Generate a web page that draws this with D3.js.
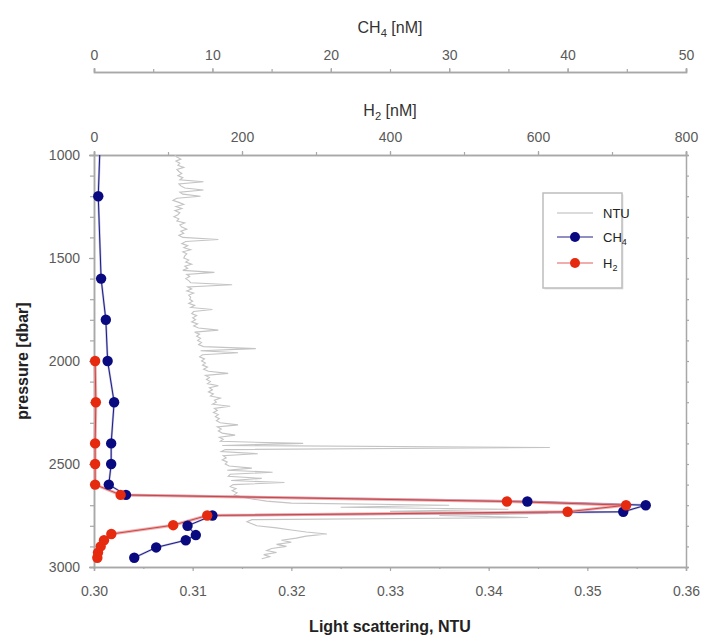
<!DOCTYPE html>
<html>
<head>
<meta charset="utf-8">
<script src="https://cdn.jsdelivr.net/npm/d3@7"></script>
<style>
  body { margin: 0; background: #fff; }
  #chart { width: 702px; height: 637px; }
  text { font-family: "Liberation Sans", Arial, sans-serif; }
</style>
</head>
<body>
<div id="chart"></div>
<script>
// NTU profile, one reading every 10 dbar from 1000 dbar
const ntuStart = 1000;
const ntuStep = 10;
const ntuValues = [
  0.3082,0.3084,0.3088,0.3083,0.3087,0.3085,0.3091,0.3084,0.3086,0.3089,
  0.3085,0.3090,0.3087,0.3111,0.3086,0.3088,0.3092,0.3111,0.3087,0.3090,
  0.3108,0.3084,0.3080,0.3086,0.3091,0.3083,0.3089,0.3082,0.3087,0.3085,
  0.3081,0.3086,0.3084,0.3092,0.3087,0.3089,0.3094,0.3088,0.3091,0.3086,
  0.3090,0.3126,0.3093,0.3089,0.3095,0.3091,0.3098,0.3090,0.3094,0.3092,
  0.3091,0.3096,0.3093,0.3099,0.3092,0.3095,0.3090,0.3122,0.3094,0.3097,
  0.3093,0.3096,0.3098,0.3140,0.3095,0.3099,0.3094,0.3101,0.3096,0.3098,
  0.3097,0.3100,0.3096,0.3102,0.3098,0.3120,0.3101,0.3099,0.3104,0.3100,
  0.3103,0.3099,0.3105,0.3101,0.3106,0.3126,0.3102,0.3107,0.3104,0.3108,
  0.3105,0.3109,0.3106,0.3111,0.3164,0.3108,0.3146,0.3110,0.3107,0.3112,
  0.3109,0.3113,0.3110,0.3115,0.3111,0.3116,0.3136,0.3113,0.3117,0.3114,
  0.3118,0.3115,0.3126,0.3117,0.3120,0.3116,0.3121,0.3118,0.3128,0.3122,
  0.3124,0.3120,0.3138,0.3122,0.3125,0.3121,0.3126,0.3123,0.3127,0.3124,
  0.3128,0.3146,0.3125,0.3129,0.3126,0.3130,0.3143,0.3127,0.3131,0.3128,
  0.3212,0.3130,0.3462,0.3133,0.3129,0.3166,0.3131,0.3134,0.3130,0.3135,
  0.3133,0.3137,0.3160,0.3135,0.3181,0.3138,0.3136,0.3170,0.3139,0.3193,
  0.3141,0.3138,0.3144,0.3140,0.3145,0.3142,0.3150,0.3160,0.3175,0.3200,
  0.3360,0.3250,0.3420,0.3300,0.3460,0.3350,0.3440,0.3160,0.3155,0.3160,
  0.3165,0.3185,0.3200,0.3215,0.3236,0.3215,0.3205,0.3190,0.3200,0.3185,
  0.3195,0.3180,0.3175,0.3185,0.3172,0.3178,0.3170
];

// bottle samples
const ch4Pressure = [970,1200,1600,1800,2000,2200,2400,2500,2600,2650,2682,2700,2732,2750,2800,2845,2870,2905,2955];
const ch4Values   = [0.5,0.36,0.6,1.0,1.15,1.7,1.45,1.45,1.25,2.7,36.6,46.6,44.7,10.0,7.9,8.6,7.75,5.25,3.4];
const h2Pressure  = [2000,2200,2400,2500,2600,2650,2682,2700,2732,2750,2797,2840,2870,2900,2930,2955];
const h2Values    = [1.5,2.5,1.5,1.5,1.5,36,558,719,640,153,107,23.4,13.5,9,5.4,4.5];

const ntuTicks = [0.30,0.31,0.32,0.33,0.34,0.35,0.36];
const pressureTicks = [1000,1500,2000,2500,3000];
const h2Ticks = [0,200,400,600,800];
const ch4Ticks = [0,10,20,30,40,50];

const width = 702, height = 637;
const margin = { left: 94, right: 16, top: 155, bottom: 70 };
const innerWidth = width - margin.left - margin.right;
const innerHeight = height - margin.top - margin.bottom;
const axisColor = "#a8a8a8";
const labelColor = "#5a5a5a";

const svg = d3.select("#chart").append("svg")
  .attr("width", width).attr("height", height);

const x = d3.scaleLinear().domain([0.30, 0.36]).range([0, innerWidth]);
const xH2 = d3.scaleLinear().domain([0, 800]).range([0, innerWidth]);
const xCH4 = d3.scaleLinear().domain([0, 50]).range([0, innerWidth]);
const y = d3.scaleLinear().domain([1000, 3000]).range([0, innerHeight]);

const g = svg.append("g").attr("transform", `translate(${margin.left},${margin.top})`);

function styleAxis(sel) {
  sel.select(".domain").attr("stroke", axisColor).attr("stroke-width", 1.5);
  sel.selectAll(".tick line").attr("stroke", axisColor).attr("stroke-width", 1.2);
  sel.selectAll(".tick text").attr("fill", labelColor).attr("font-size", 14)
    .attr("font-family", "Liberation Sans, Arial, sans-serif");
}
function minorAxis(sel) {
  styleAxis(sel);
  sel.selectAll(".tick text").remove();
}

// bottom NTU axis
g.append("g").attr("transform", `translate(0,${innerHeight})`)
  .call(d3.axisBottom(x).tickValues(d3.range(0.30, 0.3601, 0.005)).tickSize(2))
  .call(minorAxis);
g.append("g").attr("transform", `translate(0,${innerHeight})`)
  .call(d3.axisBottom(x).tickValues(ntuTicks).tickFormat(d3.format(".2f")).tickSize(4).tickPadding(15))
  .call(styleAxis);

// left pressure axis
g.append("g")
  .call(d3.axisLeft(y).tickValues(d3.range(1000, 3001, 100)).tickSize(4))
  .call(minorAxis);
g.append("g")
  .call(d3.axisLeft(y).tickValues(pressureTicks).tickFormat(d3.format("d")).tickSize(5).tickPadding(9))
  .call(styleAxis);

// right frame axis
g.append("g").attr("transform", `translate(${innerWidth},0)`)
  .call(d3.axisRight(y).tickValues(d3.range(1000, 3001, 100)).tickSize(3))
  .call(minorAxis);

// top H2 axis
g.append("g")
  .call(d3.axisTop(xH2).tickValues(d3.range(0, 801, 100)).tickSize(3))
  .call(minorAxis);
g.append("g")
  .call(d3.axisTop(xH2).tickValues(h2Ticks).tickFormat(d3.format("d")).tickSize(4).tickPadding(9))
  .call(styleAxis);

// CH4 axis above
const ch4Y = 72;
const gc = svg.append("g").attr("transform", `translate(${margin.left},${ch4Y})`);
gc.append("g")
  .call(d3.axisTop(xCH4).tickValues(d3.range(0, 51, 5)).tickSize(3))
  .call(minorAxis);
gc.append("g")
  .call(d3.axisTop(xCH4).tickValues(ch4Ticks).tickFormat(d3.format("d")).tickSize(4).tickPadding(8))
  .call(styleAxis);

// axis titles
function subTitle(parent, xPos, yPos, main, sub, rest, size, weight) {
  const t = parent.append("text").attr("x", xPos).attr("y", yPos)
    .attr("text-anchor", "middle").attr("font-size", size)
    .attr("font-weight", weight || "normal").attr("fill", "#333");
  t.append("tspan").text(main);
  if (sub) {
    t.append("tspan").attr("font-size", size * 0.7).attr("dy", size * 0.25).text(sub);
    t.append("tspan").attr("dy", -size * 0.25).text(rest);
  }
  return t;
}
const cx = margin.left + innerWidth / 2;
subTitle(svg, cx, 33, "CH", "4", " [nM]", 16);
subTitle(svg, cx, 116, "H", "2", " [nM]", 16);
subTitle(svg, cx, 632, "Light scattering, NTU", null, null, 16, "bold").attr("fill", "#222");
svg.append("text")
  .attr("transform", `translate(28,${margin.top + innerHeight / 2}) rotate(-90)`)
  .attr("text-anchor", "middle").attr("font-size", 16).attr("font-weight", "bold")
  .attr("fill", "#222").text("pressure [dbar]");

// clip so the CH4 line enters from the top edge
svg.append("clipPath").attr("id", "plotClip")
  .append("rect").attr("x", -margin.left).attr("y", 0)
  .attr("width", width).attr("height", height);

const plot = g.append("g").attr("clip-path", "url(#plotClip)");

// NTU trace
const ntuData = ntuValues.map((v, i) => ({ p: ntuStart + i * ntuStep, v }));
plot.append("path").datum(ntuData)
  .attr("fill", "none").attr("stroke", "#c4c4c4").attr("stroke-width", 1.1)
  .attr("d", d3.line().x(d => x(d.v)).y(d => y(d.p)));

// CH4
const ch4Data = ch4Pressure.map((p, i) => ({ p, v: ch4Values[i] }));
plot.append("path").datum(ch4Data)
  .attr("fill", "none").attr("stroke", "#8c8cc8").attr("stroke-width", 2.2).attr("opacity", 0.6)
  .attr("d", d3.line().x(d => xCH4(d.v)).y(d => y(d.p)));
plot.append("path").datum(ch4Data)
  .attr("fill", "none").attr("stroke", "#1c1c84").attr("stroke-width", 1)
  .attr("d", d3.line().x(d => xCH4(d.v)).y(d => y(d.p)));

// H2
const h2Data = h2Pressure.map((p, i) => ({ p, v: h2Values[i] }));
plot.append("path").datum(h2Data)
  .attr("fill", "none").attr("stroke", "#ee9a9a").attr("stroke-width", 3).attr("opacity", 0.8)
  .attr("d", d3.line().x(d => xH2(d.v)).y(d => y(d.p)));
plot.append("path").datum(h2Data)
  .attr("fill", "none").attr("stroke", "#c84848").attr("stroke-width", 1)
  .attr("d", d3.line().x(d => xH2(d.v)).y(d => y(d.p)));

plot.selectAll(".ch4pt").data(ch4Data).join("circle")
  .attr("class", "ch4pt")
  .attr("cx", d => xCH4(d.v)).attr("cy", d => y(d.p)).attr("r", 5.2)
  .attr("fill", "#0a0a80");

plot.selectAll(".h2pt").data(h2Data).join("circle")
  .attr("class", "h2pt")
  .attr("cx", d => xH2(d.v)).attr("cy", d => y(d.p)).attr("r", 5.2)
  .attr("fill", "#e62a10");

// legend
const legend = svg.append("g").attr("transform", "translate(543,193)");
legend.append("rect").attr("x", 1.5).attr("y", 1.5).attr("width", 79).attr("height", 95)
  .attr("fill", "#e6e6e6");
legend.append("rect").attr("width", 79).attr("height", 95)
  .attr("fill", "#fff").attr("stroke", "#bdbdbd").attr("stroke-width", 1.5);
const legendItems = [
  { name: "NTU", sub: null, line: "#cfcfcf", dot: null, y: 20 },
  { name: "CH", sub: "4", line: "#6a6ab0", dot: "#0a0a80", y: 44 },
  { name: "H", sub: "2", line: "#ec9090", dot: "#e62a10", y: 70 }
];
legendItems.forEach(d => {
  legend.append("line").attr("x1", 14).attr("x2", 50).attr("y1", d.y).attr("y2", d.y)
    .attr("stroke", d.line).attr("stroke-width", 1.5);
  if (d.dot) legend.append("circle").attr("cx", 32).attr("cy", d.y).attr("r", 5).attr("fill", d.dot);
  const t = legend.append("text").attr("x", 60).attr("y", d.y + 5)
    .attr("font-size", 13).attr("fill", "#222");
  t.append("tspan").text(d.name);
  if (d.sub) t.append("tspan").attr("font-size", 9).attr("dy", 3).text(d.sub);
});
</script>
</body>
</html>
